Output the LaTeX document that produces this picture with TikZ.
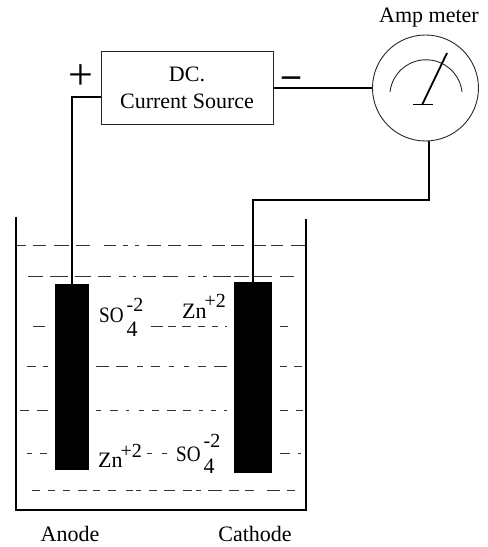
\documentclass[tikz,border=0pt]{standalone}
\usepackage{fontspec}
\usepackage{graphicx}
\setmainfont{Liberation Serif}
\usetikzlibrary{positioning, calc}
\newcommand{\supfont}{\fontsize{20}{20}\selectfont}
\newcommand{\ionso}[2]{\scalebox{0.87}[1]{SO}\kern3pt\rlap{\raisebox{#2}{\supfont -2}}\raisebox{#1}{4}}
\newcommand{\ionzn}{Zn\kern-2pt\raisebox{11pt}{\supfont +2}}
\tikzset{
  x=1pt, y=1pt,
  txt/.style={font=\fontsize{22}{27}\selectfont, align=center, inner sep=0pt, text=black},
  ion/.style={txt, anchor=base west},
  sgn/.style={font=\fontsize{44}{44}\selectfont, inner sep=0pt, text=black},
  srcbox/.style={draw=black!85, line width=0.9pt, minimum width=172pt, minimum height=73pt, inner sep=0pt, txt},
  meterc/.style={circle, draw=black!85, line width=0.9pt, minimum size=106pt, inner sep=0pt},
  electrode/.style={fill=black, inner sep=0pt},
  wire/.style={line width=1.9pt, draw=black},
  tank/.style={line width=2.4pt, draw=black, line join=miter},
  liquid/.style={line width=1pt, draw=black!80},
}
\begin{document}
\begin{tikzpicture}
    \useasboundingbox (0,0) rectangle (488,547);
    % circuit
    \node[srcbox]     (src)     at (187,459)   {DC.\\Current Source};
    \node[meterc]     (meter)   at (425.5,459) {};
    \node[txt]        (amp)     at (429,529)   {Amp meter};
    \node[sgn]        (plus)    at (81,470)    {+};
    \node[sgn, font=\fontsize{36}{36}\selectfont\bfseries] (minus) at (291,465) {--};
    % electrodes
    \node[electrode, minimum width=34pt, minimum height=186pt] (anode)   at (72,170)    {};
    \node[electrode, minimum width=38pt, minimum height=191pt] (cathode) at (253,169.5) {};
    \node[txt]        (anlbl)   at (70,13)     {Anode};
    \node[txt]        (catlbl)  at (255,13)    {Cathode};
    % ions
    \node[ion]        (so1)     at (99,224)    {\ionso{-14pt}{11pt}};
    \node[ion]        (zn1)     at (182,228)   {\ionzn};
    \node[ion]        (zn2)     at (98,79)     {\ionzn};
    \node[ion]        (so2)     at (176,85)    {\ionso{-12pt}{14pt}};

    \coordinate (bend) at (429,347);
    \draw[wire] (src.east) -- (meter.west);
    \draw[wire] ([yshift=-9pt]src.west) -| (anode.north);
    \draw[wire] (cathode.north) |- (bend) -- ([xshift=3.5pt]meter.south);

    % meter face
    \coordinate (dialL) at (390,455);
    \coordinate (pivot) at (422,442);
    \draw[line width=0.9pt, draw=black!85] (dialL) arc[start angle=173.6, end angle=6.4, radius=36.25];
    \draw[line width=1pt] (413,442) -- (433,442);
    \draw[line width=1.8pt] (pivot) -- (447,494);

    % beaker
    \draw[tank] (16,330) -- (16,37) -- (306,37) -- (306,328);

    % liquid
    \draw[liquid, dash pattern=on 9pt off 7pt on 13pt off 8pt on 15pt off 7pt on 14pt off 14pt on 12pt off 7pt on 5pt off 7pt on 4pt off 8pt on 14pt off 7pt on 13pt off 7pt on 14pt off 10pt on 13pt off 6pt on 13pt off 10pt on 12pt off 5pt on 12pt off 8pt on 16pt off 9pt] (17,301) -- (305,301);
    \draw[liquid, dash pattern=on 15pt off 7pt on 18pt off 7pt on 16pt off 7pt on 13pt off 8pt on 7pt off 7pt on 3pt off 7pt on 13pt off 7pt on 15pt off 10pt on 7pt off 8pt on 4pt off 6pt on 18pt off 3pt on 15pt off 5pt on 18pt off 8pt on 14pt off 9pt] (28,270) -- (296,270);
    \draw[liquid] (33,220) -- (45,220);
    \draw[liquid, dash pattern=on 12pt off 5pt on 8pt off 6pt on 9pt off 7pt on 7pt off 7pt on 6pt off 7pt on 3pt off 9pt] (151,220) -- (227,220);
    \draw[liquid] (280,220) -- (288,220);
    \draw[liquid, dash pattern=on 9pt off 7pt on 5pt off 9pt] (27,180) -- (48,180);
    \draw[liquid, dash pattern=on 13pt off 7pt on 12pt off 9pt on 6pt off 8pt on 9pt off 9pt on 5pt off 10pt on 5pt off 9pt on 8pt off 8pt on 13pt off 9pt] (96,180) -- (227,180);
    \draw[liquid, dash pattern=on 7pt off 7pt on 8pt off 9pt] (280,180) -- (302,180);
    \draw[liquid, dash pattern=on 9pt off 8pt on 11pt off 9pt] (20,136) -- (48,136);
    \draw[liquid, dash pattern=on 5pt off 9pt on 8pt off 8pt on 3pt off 10pt on 5pt off 8pt on 7pt off 8pt on 9pt off 7pt on 8pt off 8pt on 4pt off 8pt on 5pt off 8pt on 6pt off 9pt] (96,136) -- (227,136);
    \draw[liquid, dash pattern=on 8pt off 8pt on 7pt off 9pt] (280,136) -- (303,136);
    \draw[liquid, dash pattern=on 5pt off 8pt on 7pt off 9pt] (27,93) -- (47,93);
    \draw[liquid, dash pattern=on 5pt off 10pt on 5pt off 9pt] (147,93) -- (167,93);
    \draw[liquid, dash pattern=on 10pt off 8pt on 3pt off 9pt] (280,93) -- (301,93);
    \draw[liquid, dash pattern=on 8pt off 8pt on 7pt off 8pt on 7pt off 8pt on 9pt off 6pt on 7pt off 8pt on 8pt off 10pt on 7pt off 3pt on 5pt off 8pt on 8pt off 7pt on 11pt off 8pt on 9pt off 4pt on 5pt off 7pt on 14pt off 7pt on 10pt off 6pt on 9pt off 13pt on 13pt off 7pt on 8pt off 9pt] (32,56) -- (297,56);
\end{tikzpicture}
\end{document}
